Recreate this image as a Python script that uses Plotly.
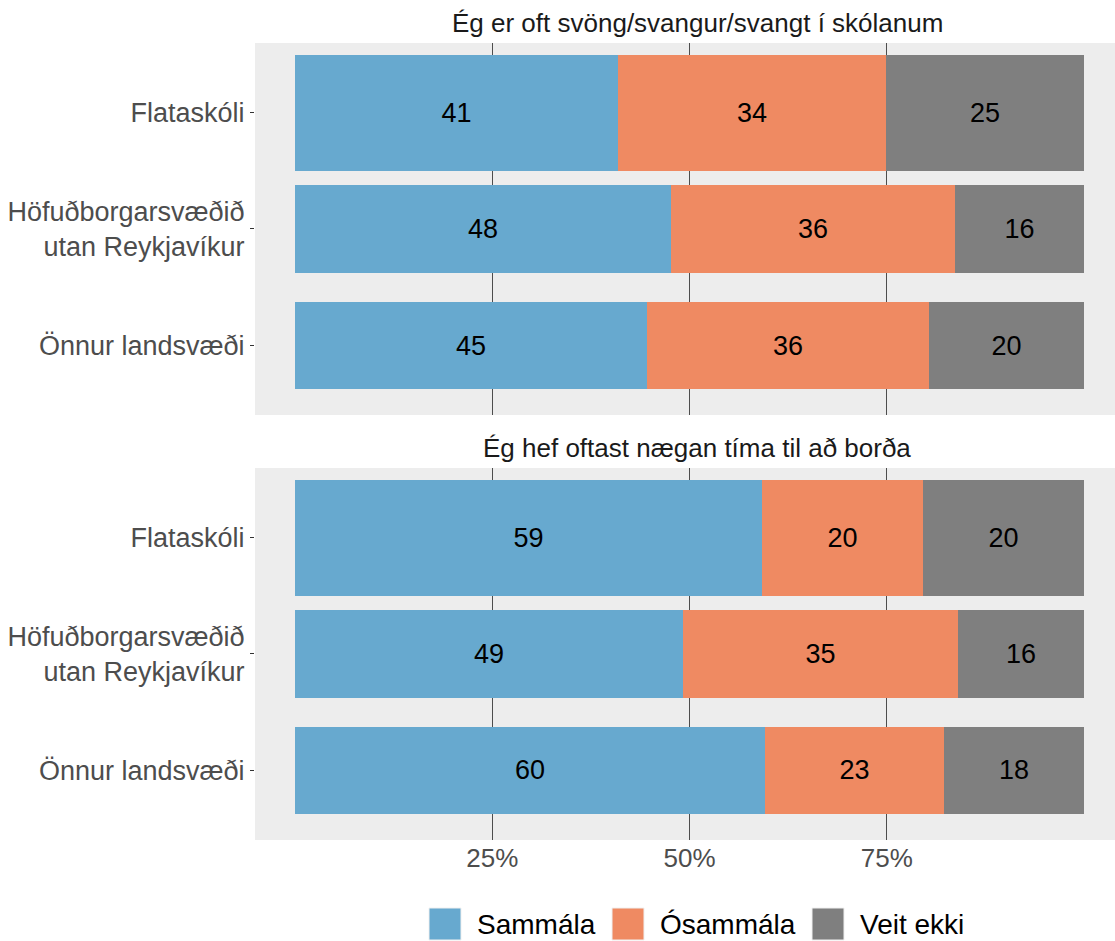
import plotly.graph_objects as go
from plotly.subplots import make_subplots

# data
hopar = ['Flataskóli', 'Höfuðborgarsvæðið<br>utan Reykjavíkur', 'Önnur landsvæði']
svor = ['Sammála', 'Ósammála', 'Veit ekki']
litir = ['#67A9CF', '#EF8A62', '#7F7F7F']

spurning1 = 'Ég er oft svöng/svangur/svangt í skólanum'
sammala1 = [40.9, 47.6, 44.6]
osammala1 = [34.0, 36.0, 35.7]
veitekki1 = [25.1, 16.4, 19.7]

spurning2 = 'Ég hef oftast nægan tíma til að borða'
sammala2 = [59.2, 49.2, 59.6]
osammala2 = [20.4, 34.8, 22.6]
veitekki2 = [20.4, 16.0, 17.8]

x_ticks = [0.25, 0.5, 0.75]
x_ticklabels = ['25%', '50%', '75%']

W, H = 1115, 941
ML, MR, MT, MB = 255, 0, 43, 101
bar_w = [1.0, 0.75, 0.75]
FONT = 'Liberation Sans, Arial, sans-serif'

fig = make_subplots(rows=2, cols=1, shared_xaxes=True, vertical_spacing=0.0667)

panels = [(spurning1, [sammala1, osammala1, veitekki1]),
          (spurning2, [sammala2, osammala2, veitekki2])]

for r, (titill, gildi) in enumerate(panels, start=1):
    for svar, litur, vals in zip(svor, litir, gildi):
        fig.add_trace(go.Bar(
            y=hopar, x=[v / 100 for v in vals], orientation='h', width=bar_w,
            name=svar, marker=dict(color=litur, line=dict(width=0)),
            text=[str(round(v)) for v in vals], textposition='inside',
            insidetextanchor='middle', textangle=0, constraintext='none',
            textfont=dict(size=27, color='black', family=FONT),
            showlegend=False, hoverinfo='skip'), row=r, col=1)
    fig.add_annotation(text=titill, xref='x' if r == 1 else 'x2', x=0.51,
                       yref='paper', y=1.0 if r == 1 else 0.4668, yanchor='bottom',
                       yshift=3, showarrow=False,
                       font=dict(size=26, color='#1a1a1a', family=FONT))

fig.update_yaxes(domain=[0.5333, 1.0], row=1, col=1)
fig.update_yaxes(domain=[0.0, 0.4668], row=2, col=1)

fig.update_xaxes(range=[-0.0507, 1.0393], tickvals=x_ticks, ticktext=x_ticklabels,
                 showgrid=True, gridcolor='#4d4d4d', gridwidth=1, zeroline=False,
                 showline=False, ticks='', automargin=False,
                 tickfont=dict(size=26, color='#4d4d4d', family=FONT))
fig.update_xaxes(showticklabels=False, row=1, col=1)
fig.update_xaxes(showticklabels=True, row=2, col=1)
fig.update_yaxes(range=[2.6, -0.6], showgrid=False, zeroline=False, showline=False,
                 ticks='outside', ticklen=4, tickcolor='#333333', tickwidth=1,
                 automargin=False,
                 tickfont=dict(size=27, color='#4d4d4d', family=FONT))

# legend drawn as keys + labels below the panels
def px_x(p):
    return (p - ML) / (W - ML - MR)

def px_y(p):
    return (H - MB - p) / (H - MT - MB)

key_left = [429, 612, 812]
key_size = 32
leg_y = 924
for svar, litur, kl in zip(svor, litir, key_left):
    fig.add_shape(type='rect', xref='paper', yref='paper',
                  x0=px_x(kl), x1=px_x(kl + key_size),
                  y0=px_y(leg_y + key_size / 2), y1=px_y(leg_y - key_size / 2),
                  fillcolor=litur, line=dict(color='#f0f0f0', width=1))
    fig.add_annotation(text=svar, xref='paper', yref='paper', x=px_x(kl + key_size + 14),
                       y=px_y(leg_y), xanchor='left', yanchor='middle', showarrow=False,
                       font=dict(size=28, color='black', family=FONT))

fig.update_layout(
    width=W, height=H, barmode='stack', bargap=0,
    margin=dict(l=ML, r=MR, t=MT, b=MB, autoexpand=False),
    paper_bgcolor='white', plot_bgcolor='#EDEDED',
    font=dict(family=FONT), showlegend=False,
)

# page body has a default 8px margin; drop it so the figure fills the window
fig.write_html('out.html', config={'displayModeBar': False},
               post_script="document.body.style.margin='0';")
